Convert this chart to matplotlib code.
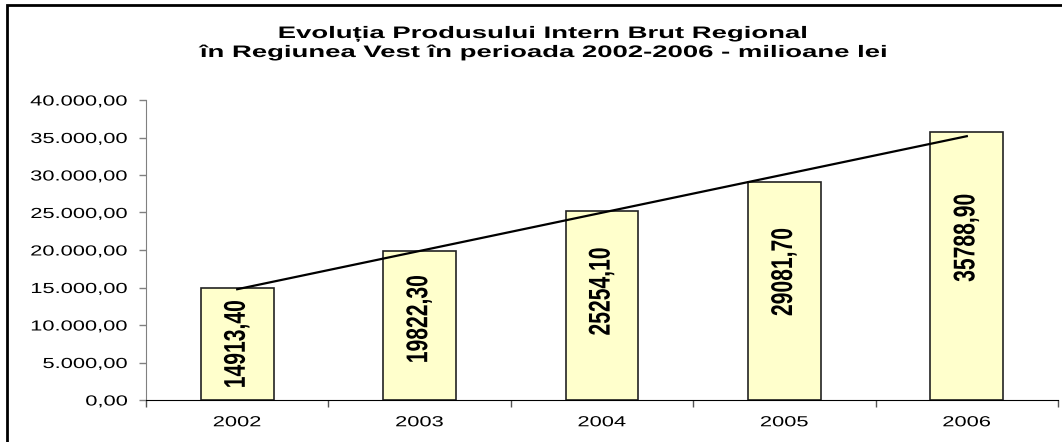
import numpy as np
import matplotlib
matplotlib.use('Agg')
import matplotlib.pyplot as plt
from matplotlib.patches import Rectangle
from matplotlib.patheffects import AbstractPathEffect
from matplotlib.transforms import Affine2D

years = ['2002', '2003', '2004', '2005', '2006']
pib = [14913.40, 19822.30, 25254.10, 29081.70, 35788.90]
title_lines = ['Evoluția Produsului Intern Brut Regional',
               'în Regiunea Vest în perioada 2002-2006 - milioane lei']


class Stretch(AbstractPathEffect):
    # widen glyphs like the (horizontally stretched) original picture
    def __init__(self, sx=1.0, sy=1.0, anchor='center'):
        super().__init__()
        self.sx, self.sy, self.anchor = sx, sy, anchor

    def draw_path(self, renderer, gc, tpath, affine, rgbFace=None):
        ext = tpath.get_extents()
        ax_ = ext.x1 if self.anchor == 'right' else (ext.x0 + ext.x1) / 2
        ay_ = (ext.y0 + ext.y1) / 2
        t = Affine2D().translate(-ax_, -ay_).scale(self.sx, self.sy).translate(ax_, ay_)
        renderer.draw_path(gc, tpath, t + affine, rgbFace)


plt.rcParams['font.family'] = ['Liberation Sans', 'DejaVu Sans']

fig = plt.figure(figsize=(10.62, 4.42), dpi=100)
ax = fig.add_axes([146 / 1062, 1 - 400 / 442, 912 / 1062, 300 / 442])

x = np.arange(len(years))
ax.bar(x, pib, width=0.4, color='#FFFFCC', edgecolor='#222222', linewidth=1.2, zorder=2)

# linear trend line
k, b = np.polyfit(x, pib, 1)
ax.plot([x[0], x[-1]], [k * x[0] + b, k * x[-1] + b], color='black', lw=1.6, zorder=3)

for xi, v in zip(x, pib):
    lab = ('%.2f' % v).replace('.', ',')
    t = ax.text(xi, 0.68 * v - 2700, lab, rotation=90, ha='center', va='center',
                fontsize=16, fontweight='bold', zorder=4)
    t.set_path_effects([Stretch(0.95, 1.35, 'center')])

ax.set_xlim(-0.5, len(years) - 0.5)
ax.set_ylim(0, 40000)
ax.set_yticks(np.arange(0, 40001, 5000))


def fmt(v):
    s = '{:,.2f}'.format(v)
    return s.replace(',', ' ').replace('.', ',').replace(' ', '.')


ax.set_yticklabels([fmt(v) for v in np.arange(0, 40001, 5000)])
ax.set_xticks(np.arange(-0.5, len(years), 1.0))
ax.set_xticklabels([])
ax.set_xticks(x, minor=True)
ax.set_xticklabels(years, minor=True)
ax.tick_params(axis='x', which='major', length=5, width=1, color='#555555', direction='out')
ax.tick_params(axis='x', which='minor', length=0, pad=11, labelsize=10.5)
ax.tick_params(axis='y', length=5, width=1, color='#808080', pad=8, labelsize=10.5)

for sp in ['top', 'right']:
    ax.spines[sp].set_visible(False)
ax.spines['left'].set_color('#808080')
ax.spines['bottom'].set_color('black')

for t in ax.get_yticklabels():
    t.set_path_effects([Stretch(1.5, 1.0, 'right')])
for t in ax.get_xticklabels(minor=True):
    t.set_path_effects([Stretch(1.5, 1.0, 'center')])

# two title lines, placed on their baselines
for line, base in zip(title_lines, [38, 57]):
    tt = fig.text(542 / 1062, 1 - base / 442, line, ha='center', va='baseline',
                  fontsize=12, fontweight='bold')
    tt.set_path_effects([Stretch(1.65, 1.0, 'center')])

# outer chart border (runs off the right and bottom edge)
fig.add_artist(Rectangle((7 / 1062, -0.1), 1.2, 1.1 - 5 / 442, transform=fig.transFigure,
                         fill=False, edgecolor='black', lw=2))

fig.savefig('out.png', dpi=100)
